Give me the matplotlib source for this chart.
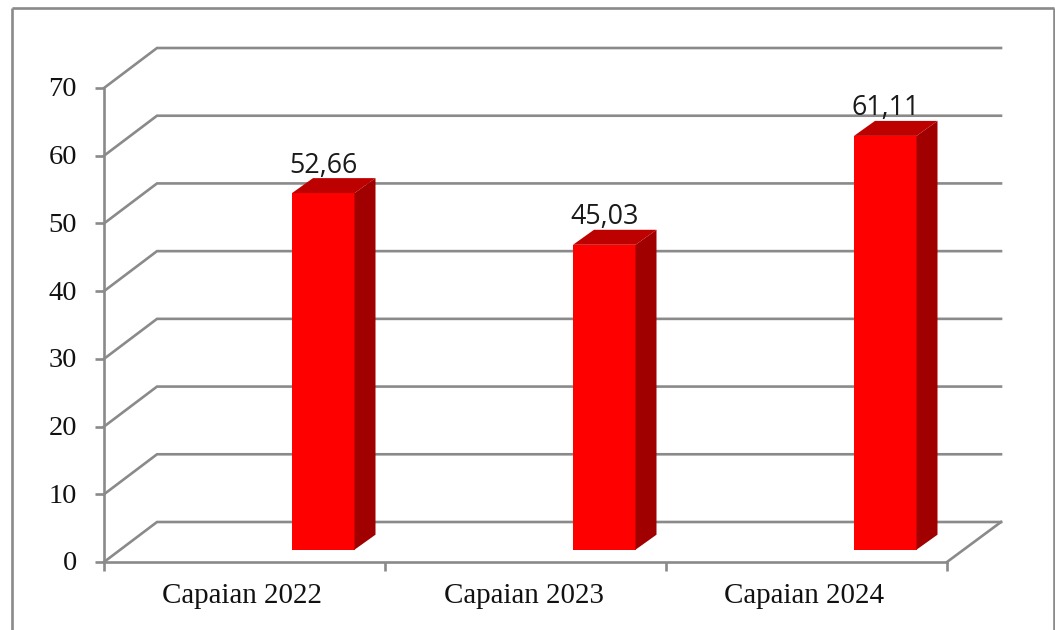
import matplotlib
matplotlib.use("Agg")
import matplotlib.pyplot as plt
from matplotlib.patches import Polygon, Rectangle

categories = ["Capaian 2022", "Capaian 2023", "Capaian 2024"]
values = [52.66, 45.03, 61.11]
value_labels = ["52,66", "45,03", "61,11"]
y_ticks = [0, 10, 20, 30, 40, 50, 60, 70]

W, H = 1055, 630
GRAY = "#8a8a8a"
LW = 1.9
X0, X1, Y0, Y1 = 104, 947, 562, 88   # axes box, pixels

fig = plt.figure(figsize=(W / 100, H / 100), dpi=100)
ax = fig.add_axes([X0 / W, 1 - Y0 / H, (X1 - X0) / W, (Y0 - Y1) / H])
ax.set_xlim(0, len(categories))
ax.set_ylim(0, 70)
ax.patch.set_alpha(0)

px_x = (X1 - X0) / len(categories)   # pixels per category
px_y = (Y0 - Y1) / 70                # pixels per value unit
dx = lambda p: p / px_x
dy = lambda p: p / px_y

# Outer frame, open at the bottom
for xs, ys in [((11.5, 11.5), (630, 7.5)), ((11.5, 1054), (7.5, 7.5)), ((1054, 1054), (7.5, 630))]:
    fig.add_artist(plt.Line2D([x / W for x in xs], [1 - y / H for y in ys],
                              color=GRAY, lw=LW, solid_capstyle="butt"))

# Perspective gridlines
DEPTH_X, DEPTH_Y = 53, 40
for t in y_ticks:
    ax.plot([0, dx(DEPTH_X), dx(897)], [t, t + dy(DEPTH_Y), t + dy(DEPTH_Y)],
            color=GRAY, lw=LW, clip_on=False, zorder=1, solid_joinstyle="miter")
ax.plot([len(categories), dx(897)], [0, dy(DEPTH_Y)], color=GRAY, lw=LW, clip_on=False, zorder=1)

# Bars
BAR_LEFT, BAR_W = dx(188), dx(62.5)
BASE = dy(12.3)
SIDE_X, SIDE_Y = dx(21), dy(15)
for i, v in enumerate(values):
    l = i + BAR_LEFT
    r = l + BAR_W
    top = BASE + v
    ax.add_patch(Rectangle((l, BASE), BAR_W, v, fc="#ff0000", ec="none", zorder=3, clip_on=False))
    ax.add_patch(Polygon([(r, BASE), (r + SIDE_X, BASE + SIDE_Y), (r + SIDE_X, top + SIDE_Y), (r, top)],
                         fc="#a00000", ec="none", zorder=3, clip_on=False))
    ax.add_patch(Polygon([(l, top), (l + SIDE_X, top + SIDE_Y), (r + SIDE_X, top + SIDE_Y), (r, top)],
                         fc="#bd0000", ec="none", zorder=3, clip_on=False))
    ax.annotate(value_labels[i], (l + BAR_W / 2, top), xytext=(0, 27.5 * 0.72), textcoords="offset points",
                ha="center", va="center", fontsize=19.4, family="Open Sans", color="#1a1a1a",
                zorder=4, annotation_clip=False)

# Axes
for s in ("top", "right"):
    ax.spines[s].set_visible(False)
for s in ("left", "bottom"):
    ax.spines[s].set_color(GRAY)
    ax.spines[s].set_linewidth(LW)
    ax.spines[s].set_zorder(2)
ax.set_yticks(y_ticks)
ax.set_yticklabels([""] * len(y_ticks))
for t in y_ticks:
    ax.annotate(str(t), (0, t), xytext=(-27 * 0.72, -2 * 0.72), textcoords="offset points",
                ha="right", va="center", family="Liberation Serif", fontsize=20.5,
                color="#111111", annotation_clip=False)
ax.set_xticks(range(len(categories) + 1))
ax.set_xticklabels([""] * (len(categories) + 1))
ax.tick_params(axis="both", length=6.5, width=LW, color=GRAY)
for i, c in enumerate(categories):
    ax.annotate(c, (i + 0.5, 0), xytext=(-2 * 0.72, -34 * 0.72), textcoords="offset points", ha="center", va="center",
                fontsize=20.9, family="Liberation Serif", color="#111111", annotation_clip=False)

fig.savefig("out.png", dpi=100, facecolor="white")
